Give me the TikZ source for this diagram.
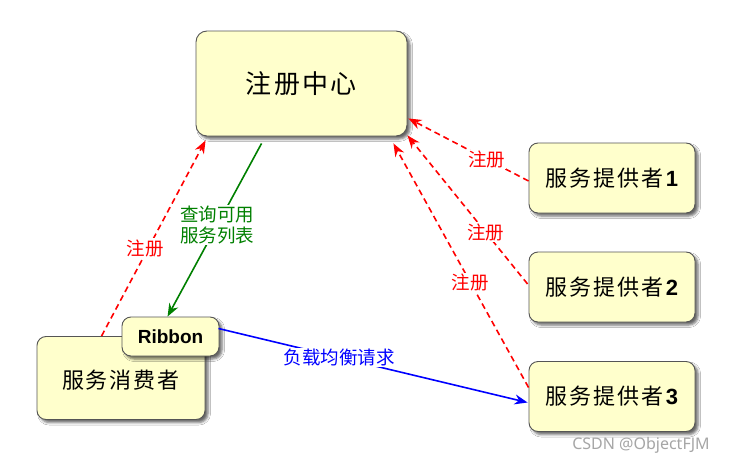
\documentclass[tikz,border=0pt]{standalone}
\usepackage{fontspec}
\setmainfont{Liberation Sans}
\newfontfamily\cjk{Noto Sans CJK SC}
\newfontfamily\cjkls[LetterSpace=9]{Noto Sans CJK SC}
\newfontfamily\wmfont{Noto Sans}
\usetikzlibrary{arrows.meta,calc,shadows.blur}
\definecolor{boxfill}{HTML}{FFFFCC}
\definecolor{boxline}{HTML}{555555}
\definecolor{darkgreen}{HTML}{008000}
\begin{document}
\begin{tikzpicture}[x=1pt,y=-1pt,
  box/.style={draw=boxline, line width=0.9pt, fill=boxfill, rounded corners=9pt,
    blur shadow={shadow xshift=3pt, shadow yshift=-3pt, shadow opacity=60, shadow blur radius=2.5pt},
    inner sep=0pt},
  regline/.style={draw=red, line width=1.6pt, dash pattern=on 6pt off 4pt, -{Stealth[length=13pt,width=10pt]}},
  lab/.style={fill=white, inner sep=1pt, font=\cjk\fontsize{18.5}{22}\selectfont},
  provtext/.style={font=\fontsize{22}{26}\selectfont},
]
\useasboundingbox (0,0) rectangle (737,466);
\fill[white] (0,0) rectangle (737,466);

\node[box, minimum width=211pt, minimum height=105pt, rounded corners=11pt, font=\cjkls\fontsize{26}{30}\selectfont] (center) at (301.5,83.5) {注册中心};
\node[box, minimum width=168pt, minimum height=83pt, font=\cjkls\fontsize{22}{26}\selectfont, text depth=0pt] (cons) at (121,378) {\raisebox{-3pt}{服务消费者}};
\node[box, minimum width=97pt, minimum height=39pt, font=\bfseries\fontsize{19}{22}\selectfont] (rib) at (170.5,336.5) {Ribbon};
\node[box, minimum width=166pt, minimum height=70pt, provtext] (p1) at (612,178) {{\cjkls 服务提供者}\textbf{1}};
\node[box, minimum width=166pt, minimum height=70pt, provtext] (p2) at (612,287) {{\cjkls 服务提供者}\textbf{2}};
\node[box, minimum width=166pt, minimum height=70pt, provtext] (p3) at (612,396.5) {{\cjkls 服务提供者}\textbf{3}};

% consumer registers
\draw[regline] ($(cons.north west)+(65,0)$) -- ($(center.south west)+(10,4)$)
  node[lab, text=red, pos=0.45, xshift=-3pt] (l0) {注册};
% query service list
\draw[darkgreen, line width=1.6pt, -{Stealth[length=13pt,width=10pt]}] ($(center.south west)+(66,7)$) -- ($(rib.north west)+(46,0)$)
  node[lab, text=darkgreen, pos=0.47, align=left, font=\cjk\fontsize{18.5}{21.5}\selectfont] (lq) {查询可用\\服务列表};
% providers register
\draw[regline] ($(p1.west)+(0,3)$) -- ($(center.south east)+(1,-18)$)
  node[lab, text=red, pos=0.35] (l1) {注册};
\draw[regline] ($(p2.west)+(-1,-3)$) -- ($(center.south east)+(0,-1)$)
  node[lab, text=red, pos=0.35] (l2) {注册};
\draw[regline] ($(p3.west)+(0,-9)$) -- ($(center.south east)+(-14,7)$)
  node[lab, text=red, pos=0.43] (l3) {注册};
% load balancing
\draw[blue, line width=1.6pt, -{Stealth[length=13pt,width=10pt]}] ($(rib.east)+(-1,-8)$) -- ($(p3.west)+(-1,6)$)
  node[lab, text=blue, pos=0.39] (lb) {负载均衡请求};

\node[text=black!35, font=\wmfont\fontsize{16}{19}\selectfont, inner sep=0pt] (wm) at (641,445) {CSDN @ObjectFJM};
\end{tikzpicture}
\end{document}
